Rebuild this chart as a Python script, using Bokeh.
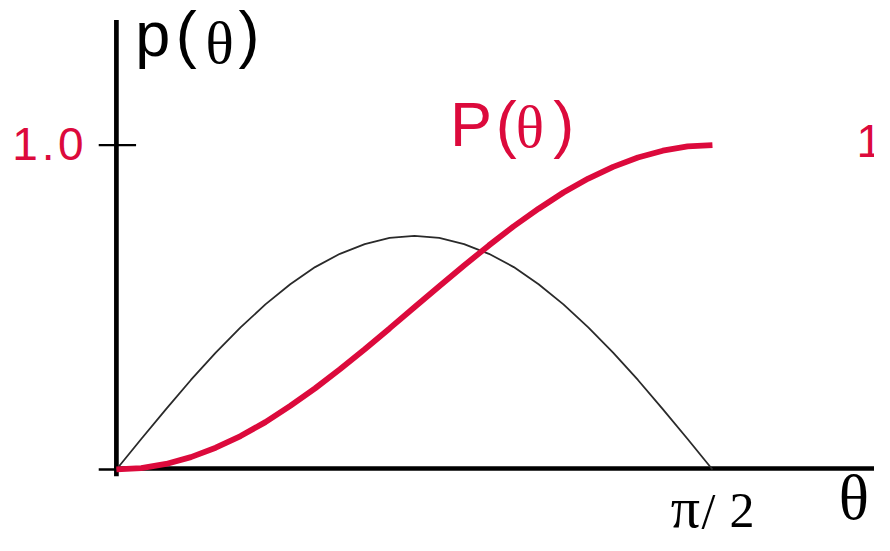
from bokeh.plotting import figure
from bokeh.models import Range1d
from bokeh.core.properties import value
from bokeh.embed import file_html
from bokeh.resources import INLINE

# ---- data (theta in degrees, 0 .. 90 = pi/2) ----
theta_deg = [0, 3.75, 7.5, 11.25, 15, 18.75, 22.5, 26.25, 30, 33.75, 37.5, 41.25, 45,
             48.75, 52.5, 56.25, 60, 63.75, 67.5, 71.25, 75, 78.75, 82.5, 86.25, 90]
p_density = [0, 0.094, 0.186, 0.276, 0.360, 0.438, 0.509, 0.571, 0.624, 0.665, 0.695, 0.714, 0.720,
             0.714, 0.695, 0.665, 0.624, 0.571, 0.509, 0.438, 0.360, 0.276, 0.186, 0.094, 0]
P_cumulative = [0, 0.004, 0.017, 0.038, 0.067, 0.103, 0.146, 0.196, 0.250, 0.309, 0.371, 0.435, 0.500,
                0.565, 0.629, 0.691, 0.750, 0.804, 0.854, 0.897, 0.933, 0.962, 0.983, 0.996, 1.000]
y_tick_values = [0, 1.0]
y_tick_label_chars = ["1", ".", "0"]
x_tick_label_chars = ["π", "/", "2"]
x_tick_value = 90

RED = "#DC0A3C"
SANS = "Liberation Sans"
SERIF = "Liberation Serif"

W, H = 874, 535
Y0, Y1 = -0.2036, 1.4461
PX_PER_Y = H / (Y1 - Y0)

p = figure(width=W, height=H, output_backend="svg", toolbar_location=None,
           x_range=Range1d(-17.50, 114.47), y_range=Range1d(Y0, Y1),
           x_axis_type=None, y_axis_type=None, min_border=0)
p.outline_line_color = None
p.background_fill_color = "white"
p.border_fill_color = "white"
p.grid.visible = False


def label(x, y, ch, color, font, size, align="center"):
    # baseline correction for the svg text placement
    yy = y + 0.38 * size / PX_PER_Y
    p.text(x=[x], y=[yy], text=[ch], text_color=color, text_font=value(font),
           text_font_size=f"{size}px", text_align=align, text_baseline="alphabetic")


# axes
p.segment(x0=[0], y0=[-0.021], x1=[0], y1=[1.386], line_color="black", line_width=4.7)
p.segment(x0=[-0.35], y0=[0.003], x1=[116], y1=[0.003], line_color="black", line_width=4.5)
# y ticks
p.segment(x0=[-2.67, -2.67], y0=y_tick_values, x1=[0, 2.97], y1=y_tick_values,
          line_color="black", line_width=2.4)

# curves
p.line(theta_deg, p_density, line_color="#2a2a2a", line_width=1.8)
p.line(theta_deg, P_cumulative, line_color=RED, line_width=5.8)

# left tick label 1.0 (glyph by glyph, wide spacing)
for xx, ch in zip([-13.79, -10.30, -6.89], y_tick_label_chars):
    label(xx, 0.949, ch, RED, SANS, 46)
# right-hand tick label, cut by the edge
label(113.7, 0.958, "1", RED, SANS, 46)

# pi/2 label (glyph by glyph)
for xx, ch, fs in zip([x_tick_value - 4.08, x_tick_value - 0.59, x_tick_value + 4.45],
                      x_tick_label_chars, [58, 50, 50]):
    label(xx, -0.1856, ch, "black", SERIF, fs)

# theta axis label
label(111.35, -0.1617, "θ", "black", SERIF, 63)

# p(θ) label
for xx, ch in zip([5.49, 10.53, 20.02], ["p", "(", ")"]):
    label(xx, 1.268, ch, "black", SANS, 63)
label(15.57, 1.2455, "θ", "black", SERIF, 59)

# P(θ) label
for xx, ch in zip([53.53, 58.86, 67.54], ["P", "(", ")"]):
    label(xx, 0.991, ch, RED, SANS, 63)
label(62.42, 0.988, "θ", RED, SERIF, 59)

open("out.html", "w").write(file_html(p, INLINE))
